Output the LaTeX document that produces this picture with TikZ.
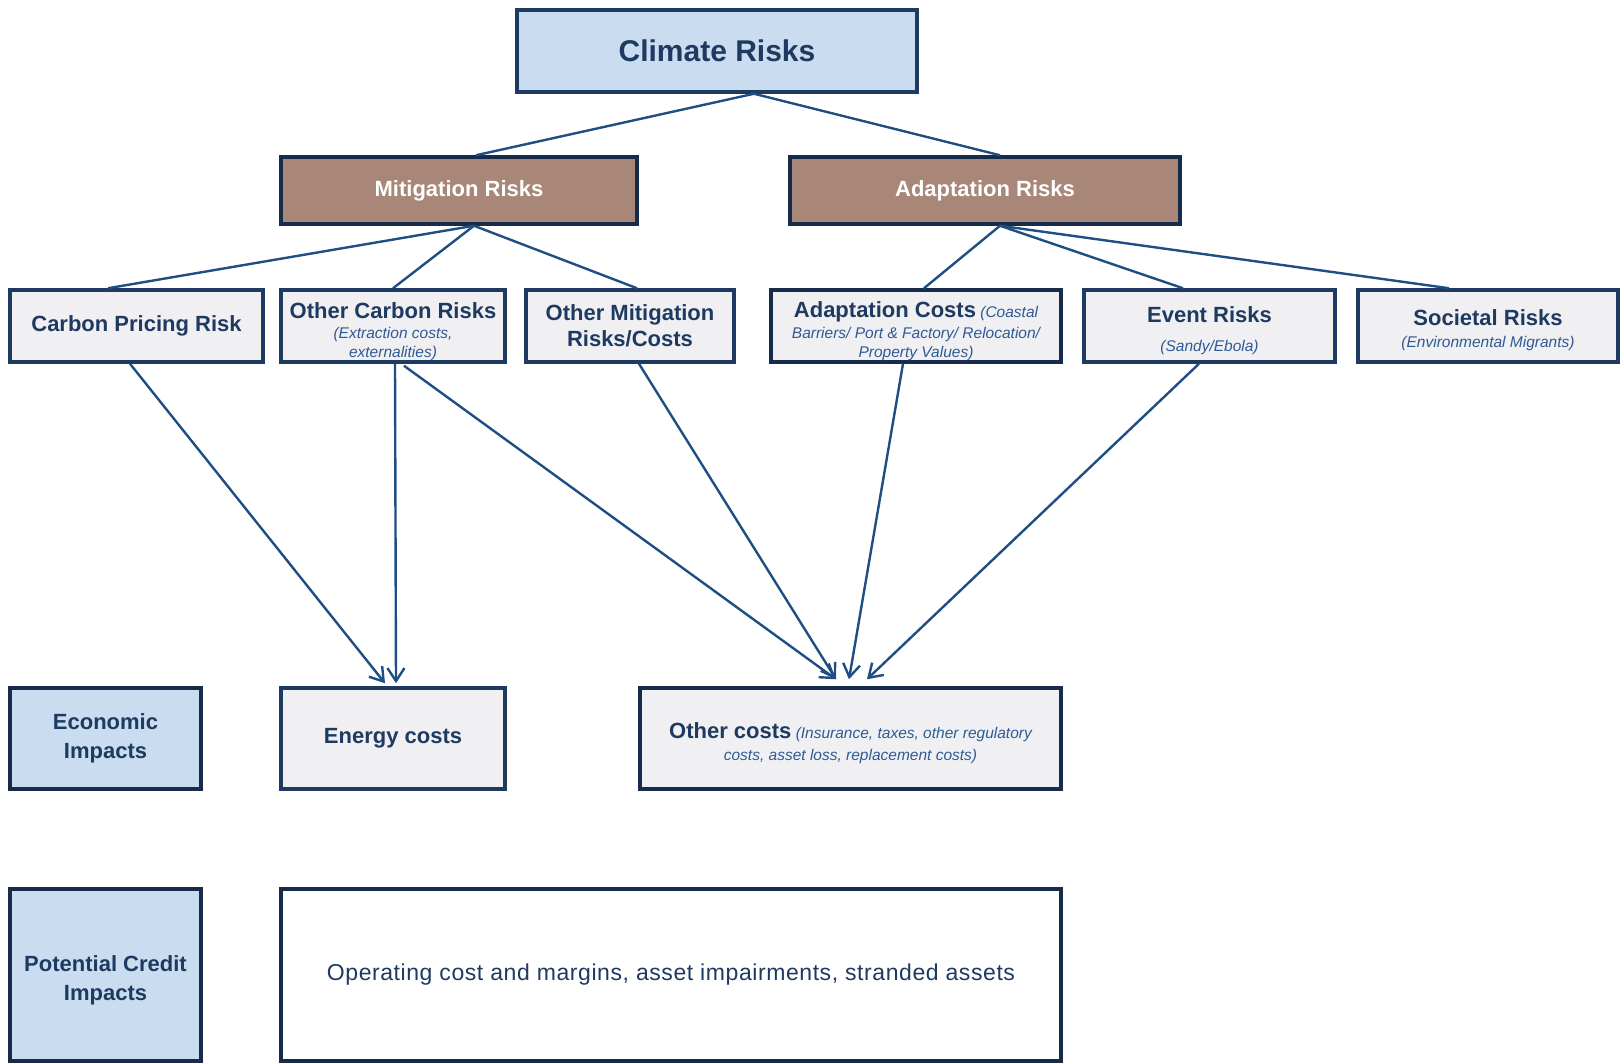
\documentclass[tikz,border=0pt]{standalone}
\usepackage{fontspec}
\setmainfont{Liberation Sans}
\usetikzlibrary{calc,arrows.meta}

\definecolor{navy}{HTML}{1F3A60}
\definecolor{deepnavy}{HTML}{172C4A}
\definecolor{linkblue}{HTML}{1F4E82}
\definecolor{noteblue}{HTML}{2E5A94}
\definecolor{skyfill}{HTML}{C9DCF0}
\definecolor{brownfill}{HTML}{A88779}
\definecolor{greyfill}{HTML}{F0F0F3}

% small italic remark inside a box
\newcommand\remark[1]{{\mdseries\itshape\color{noteblue}\fontsize{15.5}{19}\selectfont #1}}
% bold box heading
\newcommand\heading[1]{{\bfseries\fontsize{22}{26}\selectfont #1}}
% invisible strut that pushes a text block slightly down
\newcommand\push[1]{\rule{0pt}{#1}}

\begin{document}
\begin{tikzpicture}[x=1pt,y=-1pt,
  box/.style={draw=navy, line width=3.5pt, fill=greyfill, text=navy,
    align=center, inner sep=0pt, font=\fontsize{15.5}{19}\selectfont},
  topbox/.style={box, fill=skyfill, font=\bfseries\fontsize{30}{34}\selectfont},
  branch/.style={box, draw=deepnavy, fill=brownfill, text=white,
    font=\bfseries\fontsize{22}{26}\selectfont},
  side/.style={box, draw=deepnavy, fill=skyfill, font=\bfseries\fontsize{22}{29}\selectfont},
  link/.style={draw=linkblue, line width=2.4pt},
  feed/.style={link, -{Straight Barb[length=13pt,width=17pt,line width=2.4pt]}}
]
\useasboundingbox (0,0) rectangle (1623,1064);

% top level
\node[topbox, minimum width=400, minimum height=82] (clim) at (717,51) {Climate Risks};

% two branches
\node[branch, minimum width=356, minimum height=67] (mit) at (459,190.5) {Mitigation Risks};
\node[branch, minimum width=390, minimum height=67] (ada) at (985,190.5) {Adaptation Risks};

% risk categories
\node[box, minimum width=253, minimum height=72] (cpr) at (136.5,326) {\heading{Carbon Pricing Risk}};
\node[box, minimum width=224, minimum height=72] (ocr) at (393,326)
  {\push{28pt}\heading{Other Carbon Risks}\\[1pt]\remark{(Extraction costs,}\\\remark{externalities)}};
\node[box, minimum width=208, minimum height=72] (omr) at (630,326)
  {\heading{Other Mitigation}\\[4pt]\heading{Risks/Costs}};
\node[box, draw=deepnavy, minimum width=290, minimum height=72] (adc) at (916,326)
  {\push{27pt}\heading{Adaptation Costs} \remark{(Coastal}\\[2pt]\remark{Barriers/ Port \& Factory/ Relocation/}\\\remark{Property Values)}};
\node[box, minimum width=251, minimum height=72] (evr) at (1209.5,326)
  {\push{26pt}\heading{Event Risks}\\[10pt]\remark{(Sandy/Ebola)}};
\node[box, minimum width=260, minimum height=72] (soc) at (1488,326)
  {\push{24pt}\heading{Societal Risks}\\[3pt]\remark{(Environmental Migrants)}};

% economic impacts row
\node[side, minimum width=191, minimum height=101] (eco) at (105.5,738.5) {Economic\\Impacts};
\node[box, minimum width=224, minimum height=101] (ene) at (393,738.5) {\heading{Energy costs}};
\node[box, draw=deepnavy, minimum width=421, minimum height=101] (oth) at (850.5,738.5)
  {\push{25pt}\heading{Other costs} \remark{(Insurance, taxes, other regulatory}\\[3pt]\remark{costs, asset loss, replacement costs)}};

% credit impacts row
\node[side, minimum width=191, minimum height=172] (pci) at (105.5,975) {\push{26pt}Potential Credit\\Impacts};
\node[box, draw=deepnavy, fill=white, minimum width=780, minimum height=172] (opc) at (671,975)
  {\fontsize{23}{27}\selectfont\addfontfeature{LetterSpace=2.5}Operating cost and margins, asset impairments, stranded assets};

% hierarchy links
\draw[link] ($(clim.south)+(37,0)$) -- ($(mit.north)+(17,0)$);
\draw[link] ($(clim.south)+(37,0)$) -- ($(ada.north)+(15,0)$);

\draw[link] ($(mit.south)+(15,0)$) -- ($(cpr.north)+(-28.5,0)$);
\draw[link] ($(mit.south)+(15,0)$) -- ($(ocr.north)+(0,0)$);
\draw[link] ($(mit.south)+(15,0)$) -- ($(omr.north)+(7,0)$);

\draw[link] ($(ada.south)+(15,0)$) -- ($(adc.north)+(8,0)$);
\draw[link] ($(ada.south)+(15,0)$) -- ($(evr.north)+(-26.5,0)$);
\draw[link] ($(ada.south)+(15,0)$) -- ($(soc.north)+(-39,0)$);

% impact arrows
\draw[feed] ($(cpr.south)+(-6.5,0)$) -- ($(ene.north)+(-8,-3)$);
\draw[feed] ($(ocr.south)+(2,0)$) -- ($(ene.north)+(3,-3)$);
\draw[feed] ($(ocr.south)+(11,2)$) -- ($(oth.north)+(-14.5,-7)$);
\draw[feed] ($(omr.south)+(9,0)$) -- ($(oth.north)+(-14.5,-7)$);
\draw[feed] ($(adc.south)+(-13,0)$) -- ($(oth.north)+(-1.5,-7)$);
\draw[feed] ($(evr.south)+(-10.5,0)$) -- ($(oth.north)+(16.5,-7)$);
\end{tikzpicture}
\end{document}
